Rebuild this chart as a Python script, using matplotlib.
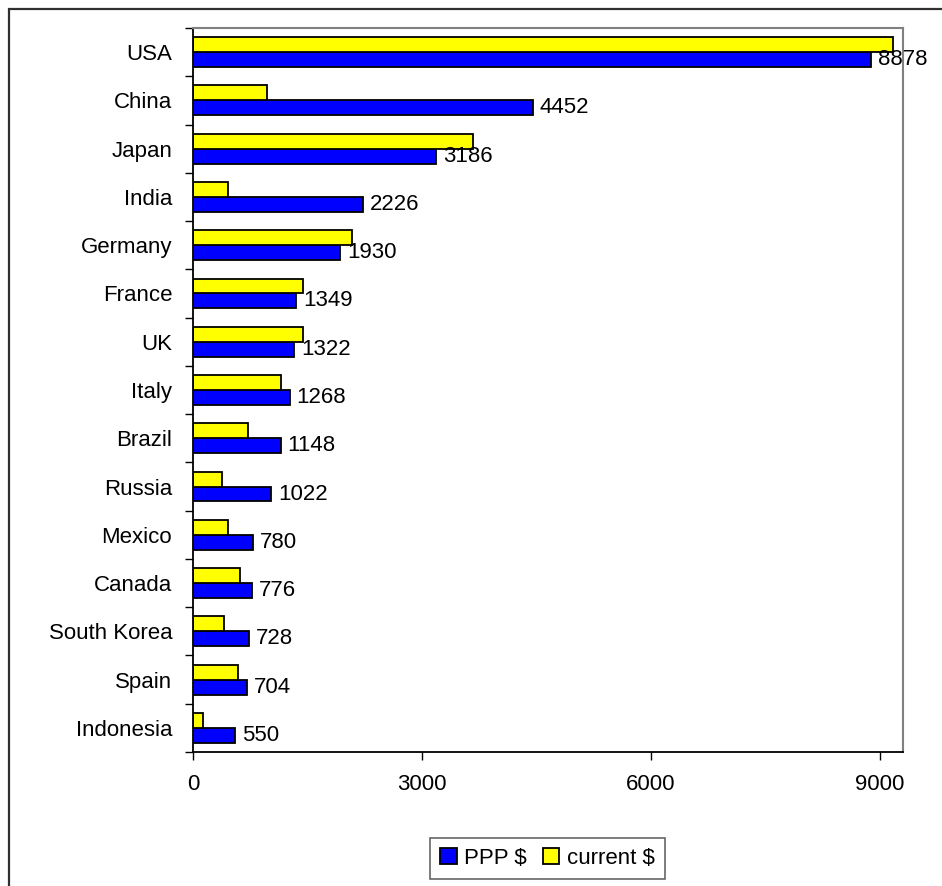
import matplotlib.pyplot as plt
import matplotlib.patches as patches
import numpy as np

plt.rcParams['font.family'] = ['Liberation Sans', 'DejaVu Sans']
fs = 16

# GDP by country, billions of dollars
countries = ['USA', 'China', 'Japan', 'India', 'Germany', 'France', 'UK', 'Italy',
             'Brazil', 'Russia', 'Mexico', 'Canada', 'South Korea', 'Spain', 'Indonesia']
ppp = [8878, 4452, 3186, 2226, 1930, 1349, 1322, 1268, 1148, 1022, 780, 776, 728, 704, 550]
current = [9170, 970, 3670, 460, 2080, 1440, 1440, 1150, 720, 380, 460, 620, 410, 590, 130]
xticks = [0, 3000, 6000, 9000]

fig = plt.figure(figsize=(9.42, 8.86), dpi=100)
ax = fig.add_axes([193 / 942, 1 - 752 / 886, 710 / 942, 724 / 886])

y = np.arange(len(countries))
h = 0.31
ax.barh(y + h / 2, ppp, height=h, color='#0000ff', edgecolor='black', linewidth=1.3, label='PPP $')
ax.barh(y - h / 2, current, height=h, color='#ffff00', edgecolor='black', linewidth=1.3, label='current $')

for yi, v in zip(y, ppp):
    ax.annotate(str(v), (v, yi + h / 2), xytext=(5, 0), textcoords='offset points',
                va='center', ha='left', fontsize=fs)

ax.set_xlim(0, 9300)
ax.set_ylim(len(countries) - 0.5, -0.5)
ax.set_xticks(xticks)
ax.set_xticklabels([str(t) for t in xticks], fontsize=fs)
ax.set_yticks(y)
ax.set_yticklabels(countries, fontsize=fs)
ax.set_yticks(np.arange(len(countries) + 1) - 0.5, minor=True)
ax.tick_params(axis='y', which='major', length=0, pad=15)
ax.tick_params(axis='y', which='minor', length=6, width=1, direction='out')
ax.tick_params(axis='x', length=6, width=1, direction='out', pad=10)

for side in ['top', 'right']:
    ax.spines[side].set_color('#808080')
    ax.spines[side].set_linewidth(1.5)
for side in ['left', 'bottom']:
    ax.spines[side].set_color('black')
    ax.spines[side].set_linewidth(1.3)

handles, labels = ax.get_legend_handles_labels()
leg = fig.legend(handles, labels, loc='center', bbox_to_anchor=(547.5 / 942, 1 - 858 / 886),
                 ncol=2, fontsize=fs, frameon=True, fancybox=False, handlelength=0.75,
                 handleheight=0.75, handletextpad=0.35, columnspacing=0.7, borderpad=0.45,
                 borderaxespad=0)
leg.get_frame().set_edgecolor('#404040')
leg.get_frame().set_linewidth(1.2)

# chart area border (clipped on the right and bottom)
border = patches.Rectangle((9 / 942, -0.1), 1.2, 1.1 - 9 / 886, transform=fig.transFigure,
                           fill=False, edgecolor='#303030', linewidth=1.6, clip_on=False)
fig.patches.append(border)

fig.savefig('out.png', dpi=100)
